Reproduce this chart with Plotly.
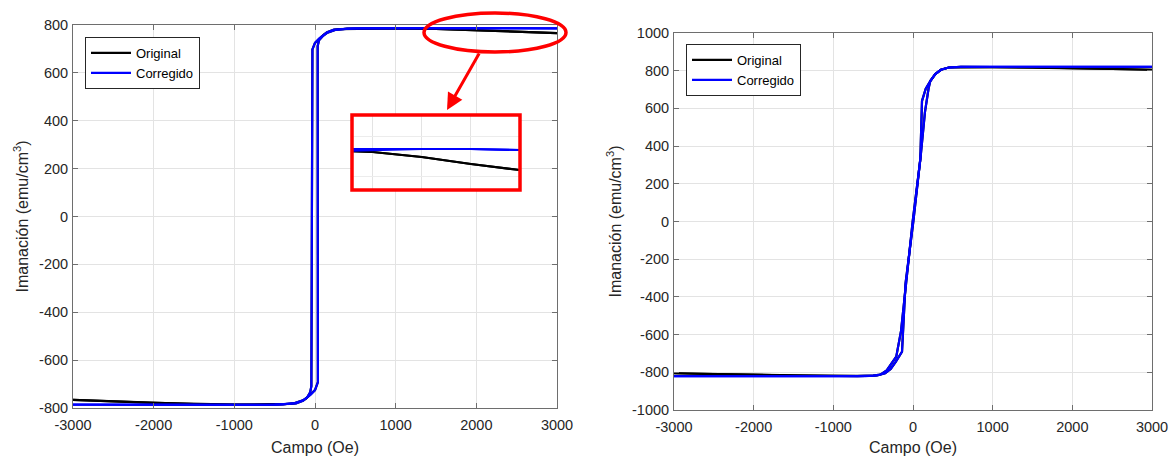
import plotly.graph_objects as go

# ---------------- Data ----------------
# Left panel: descending branch (H from +3000 to -3000)
left_h_desc = [3000, 2500, 2000, 1500, 1000, 500, 300, 236, 150, 112, 50, 0, -32, -45,
               -60, -100, -150, -250, -400, -600, -1000, -1500, -2000, -2500, -3000]
left_corr_desc = [786, 787, 787, 787, 787, 786, 783, 781, 770, 761, 743, 725, 698, -709,
                  -735, -757, -768, -779, -785, -787, -787, -787, -787, -787, -786]
left_orig_desc = [766, 772, 779, 784, 786, 786, 783, 781, 770, 761, 743, 725, 698, -709,
                  -735, -757, -768, -779, -785, -787, -786, -784, -779, -772, -766]
# Left panel: ascending branch (H from -3000 to +3000)
left_h_asc = [-3000, -2500, -2000, -1500, -1000, -500, -300, -236, -150, -112, -50, 0, 36, 33,
              50, 100, 154, 250, 400, 600, 1000, 1500, 2000, 2500, 3000]
left_corr_asc = [-786, -787, -787, -787, -787, -786, -783, -781, -770, -761, -743, -725, -692, 712,
                 736, 755, 768, 779, 785, 786, 787, 787, 787, 787, 786]
left_orig_asc = [-766, -772, -779, -784, -786, -786, -783, -781, -770, -761, -743, -725, -692, 712,
                 736, 755, 768, 779, 785, 786, 786, 784, 779, 772, 766]

# Right panel: descending branch
right_h_desc = [3000, 2500, 2000, 1500, 1000, 600, 450, 350, 280, 217, 160, 113, 92, -4,
                -100, -150, -210, -264, -330, -410, -500, -700, -1000, -1500, -2000, -2500, -3000]
right_corr_desc = [820, 821, 821, 821, 821, 820, 817, 805, 782, 745, 705, 640, 330, 0,
                   -363, -580, -717, -752, -790, -812, -818, -820, -821, -821, -821, -821, -820]
right_orig_desc = [805, 810, 814, 817, 819, 820, 817, 805, 782, 745, 705, 640, 330, 0,
                   -363, -580, -717, -752, -790, -812, -818, -820, -819, -817, -814, -810, -805]
# Right panel: ascending branch
right_h_asc = [-3000, -2500, -2000, -1500, -1000, -600, -450, -350, -280, -217, -160, -138, -94, 4,
               100, 150, 196, 217, 280, 350, 450, 600, 1000, 1500, 2000, 2500, 3000]
right_corr_asc = [-820, -821, -821, -821, -821, -820, -817, -805, -782, -745, -710, -691, -330, 0,
                  363, 580, 707, 745, 782, 805, 817, 820, 821, 821, 821, 821, 820]
right_orig_asc = [-805, -810, -814, -817, -819, -820, -817, -805, -782, -745, -710, -691, -330, 0,
                  363, 580, 707, 745, 782, 805, 817, 820, 819, 817, 814, 810, 805]

x_ticks = [-3000, -2000, -1000, 0, 1000, 2000, 3000]
left_y_ticks = [-800, -600, -400, -200, 0, 200, 400, 600, 800]
right_y_ticks = [-1000, -800, -600, -400, -200, 0, 200, 400, 600, 800, 1000]
series_names = ["Original", "Corregido"]
x_title = "Campo (Oe)"
y_title = "Imanación (emu/cm<sup>3</sup>)"

# ---------------- Figure ----------------
W, H = 1169, 456
BLACK = "#000000"
BLUE = "#0000ff"
FONT = "Liberation Sans, Arial, sans-serif"
TXT = "#262626"

def px_x(p):
    return p / W

def px_y(p):
    return 1 - p / H

def lab(v):
    return str(v)

fig = go.Figure()

def add_loop(h_d, m_d, h_a, m_a, color, name, xa, ya, legend, showlegend):
    xs = h_d + [None] + h_a
    ys = m_d + [None] + m_a
    fig.add_trace(go.Scatter(x=xs, y=ys, mode="lines", name=name,
                             line=dict(color=color, width=2.2),
                             xaxis=xa, yaxis=ya, legend=legend,
                             showlegend=showlegend, connectgaps=False))

# left panel
add_loop(left_h_desc, left_orig_desc, left_h_asc, left_orig_asc, BLACK, series_names[0], "x", "y", "legend", True)
add_loop(left_h_desc, left_corr_desc, left_h_asc, left_corr_asc, BLUE, series_names[1], "x", "y", "legend", True)
# right panel
add_loop(right_h_desc, right_orig_desc, right_h_asc, right_orig_asc, BLACK, series_names[0], "x2", "y2", "legend2", True)
add_loop(right_h_desc, right_corr_desc, right_h_asc, right_corr_asc, BLUE, series_names[1], "x2", "y2", "legend2", True)
# inset (zoom of the left panel's upper-right region)
add_loop(left_h_desc, left_orig_desc, left_h_asc, left_orig_asc, BLACK, series_names[0], "x3", "y3", "legend", False)
add_loop(left_h_desc, left_corr_desc, left_h_asc, left_corr_asc, BLUE, series_names[1], "x3", "y3", "legend", False)

axis_common = dict(
    showline=True, linecolor="#6e6e6e", linewidth=1, mirror="ticks",
    ticks="inside", ticklen=5, tickcolor="#6e6e6e", automargin=False,
    showgrid=True, gridcolor="#e3e3e3", gridwidth=1, zeroline=False,
    tickfont=dict(family=FONT, size=14.5, color=TXT),
)
title_font = dict(family=FONT, size=16, color=TXT)

fig.update_layout(
    template="none",
    width=W, height=H,
    margin=dict(l=0, r=0, t=0, b=0, autoexpand=False),
    paper_bgcolor="white", plot_bgcolor="white",
    xaxis=dict(domain=[px_x(73), px_x(557)], range=[-3000, 3000], anchor="y",
               tickvals=x_ticks, ticktext=[lab(v) for v in x_ticks], ticklabelstandoff=4,
               title=dict(text=x_title, font=title_font, standoff=9), **axis_common),
    yaxis=dict(domain=[px_y(408), px_y(25)], range=[-800, 800], anchor="x",
               tickvals=left_y_ticks, ticktext=[lab(v) for v in left_y_ticks], ticklabelstandoff=1,
               title=dict(text=y_title, font=title_font, standoff=6), **axis_common),
    xaxis2=dict(domain=[px_x(674), px_x(1152)], range=[-3000, 3000], anchor="y2",
                tickvals=x_ticks, ticktext=[lab(v) for v in x_ticks], ticklabelstandoff=4,
                title=dict(text=x_title, font=title_font, standoff=9), **axis_common),
    yaxis2=dict(domain=[px_y(410), px_y(33)], range=[-1000, 1000], anchor="x2",
                tickvals=right_y_ticks, ticktext=[lab(v) for v in right_y_ticks], ticklabelstandoff=1,
                title=dict(text=y_title, font=title_font, standoff=6), **axis_common),
    xaxis3=dict(domain=[px_x(352), px_x(520)], range=[1290, 3000], anchor="y3",
                showticklabels=False, ticks="", showline=False, zeroline=False,
                automargin=False, showgrid=True, gridcolor="#e3e3e3", dtick=500),
    yaxis3=dict(domain=[px_y(190), px_y(115)], range=[746, 821], anchor="x3",
                showticklabels=False, ticks="", showline=False, zeroline=False,
                automargin=False, showgrid=True, gridcolor="#ececec", tickvals=[760, 800]),
    legend=dict(x=px_x(85), y=px_y(37), xanchor="left", yanchor="top",
                bgcolor="white", bordercolor="#262626", borderwidth=1,
                font=dict(family=FONT, size=13, color="#000000"),
                tracegroupgap=0, itemwidth=40),
    legend2=dict(x=px_x(686), y=px_y(44), xanchor="left", yanchor="top",
                 bgcolor="white", bordercolor="#262626", borderwidth=1,
                 font=dict(family=FONT, size=13, color="#000000"),
                 tracegroupgap=0, itemwidth=40),
    showlegend=True,
)

RED = "#ff0000"
fig.add_shape(type="circle", xref="paper", yref="paper",
              x0=px_x(424), x1=px_x(566), y0=px_y(52), y1=px_y(13),
              line=dict(color=RED, width=3.5), layer="above")
fig.add_shape(type="rect", xref="paper", yref="paper",
              x0=px_x(352), x1=px_x(520), y0=px_y(190), y1=px_y(115),
              line=dict(color=RED, width=3.5), layer="above")
fig.add_annotation(x=px_x(447), y=px_y(110), xref="paper", yref="paper",
                   ax=33, ay=-58, showarrow=True, arrowhead=2, arrowsize=1.1,
                   arrowwidth=3, arrowcolor=RED, text="")

fig.write_html("out.html")
